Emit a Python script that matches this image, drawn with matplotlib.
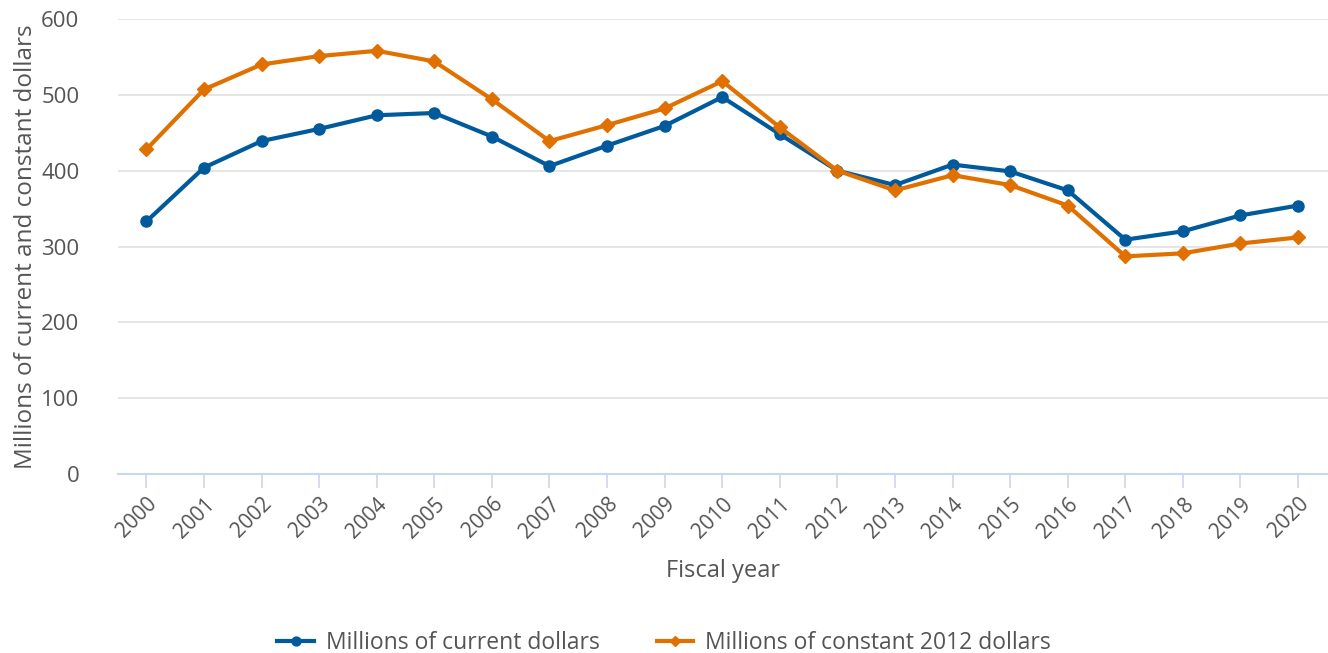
import matplotlib.pyplot as plt

plt.rcParams['font.family'] = ['Open Sans', 'DejaVu Sans']

# Data
years = [str(y) for y in range(2000, 2021)]
current_dollars = [333, 404, 439, 455, 473, 476, 445, 406, 433, 459, 497,
                   448, 400, 381, 408, 399, 374, 309, 320, 341, 354]
constant_dollars = [428, 507, 540, 551, 558, 544, 494, 439, 460, 482, 518,
                    457, 400, 374, 394, 381, 354, 287, 291, 304, 312]

blue = '#005a9c'
orange = '#e07000'
grey = '#555555'

fig = plt.figure(figsize=(13.28, 6.53), dpi=100)
ax = fig.add_axes([0.089, 0.274, 0.911, 0.697])

x = list(range(len(years)))
ax.plot(x, current_dollars, color=blue, lw=3, marker='o', ms=8,
        label='Millions of current dollars', zorder=3)
ax.plot(x, constant_dollars, color=orange, lw=3, marker='D', ms=7,
        label='Millions of constant 2012 dollars', zorder=3)

ax.set_ylim(0, 600)
ax.set_xlim(-0.49, 20.52)
ax.set_yticks(range(0, 601, 100))
ax.set_xticks(x)
ax.set_xticklabels(years, rotation=45, ha='right', rotation_mode='anchor')
ax.grid(axis='y', color='#e0e0e0', lw=1.2)
ax.set_axisbelow(True)

for s in ['top', 'right', 'left']:
    ax.spines[s].set_visible(False)
ax.spines['bottom'].set_color('#ccd6eb')
ax.spines['bottom'].set_linewidth(1.5)
ax.tick_params(axis='x', colors='#ccd6eb', length=10, width=1.2,
               labelcolor=grey, labelsize=15, pad=4)
ax.tick_params(axis='y', length=0, labelcolor=grey, labelsize=16, pad=28)

ax.set_xlabel('Fiscal year', fontsize=17, color=grey, labelpad=12)
ax.set_ylabel('Millions of current and constant dollars', fontsize=17.5,
              color=grey, labelpad=2)

fig.legend(loc='lower center', bbox_to_anchor=(0.5, -0.035), ncol=2,
           frameon=False, fontsize=16.5, labelcolor=grey, handlelength=1.6,
           handletextpad=0.5, columnspacing=2.5, markerscale=0.8)

fig.savefig('out.png', dpi=100)
